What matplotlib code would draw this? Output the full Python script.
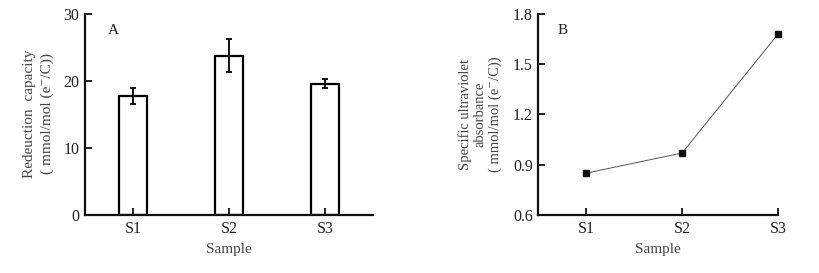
import matplotlib.pyplot as plt

plt.rcParams['font.family'] = ['Liberation Serif', 'DejaVu Serif']

samples = ['S1', 'S2', 'S3']
reduction = [17.8, 23.8, 19.6]
reduction_err = [1.2, 2.4, 0.7]
suva = [0.85, 0.97, 1.68]

fig = plt.figure(figsize=(8.19, 2.73), dpi=100)
axA = fig.add_axes([0.1038, 0.2125, 0.3516, 0.7362])
axB = fig.add_axes([0.6573, 0.2125, 0.2926, 0.7362])

tick_col = '#222222'
lab_col = '#444444'

# panel A - bars
x = range(len(samples))
axA.bar(x, reduction, width=0.29, color='white', edgecolor='black', linewidth=1.6,
        yerr=reduction_err, capsize=2.5, error_kw=dict(elinewidth=1.4, capthick=1.4, ecolor='#111111'))
axA.set_xlim(-0.5, 2.5)
axA.set_ylim(0, 30)
axA.set_yticks([0, 10, 20, 30])
axA.set_xticks(list(x))
axA.set_xticklabels(samples)
axA.text(0.08, 0.92, 'A', transform=axA.transAxes, fontsize=11, color='#222222', va='center')
axA.set_ylabel('Redeuction  capacity\n( mmol/mol (e⁻/C))', fontsize=11, color=lab_col, linespacing=1.45)
axA.yaxis.set_label_coords(-0.106, 0.505)
axA.set_xlabel('Sample', fontsize=11, color=lab_col, labelpad=5)

# panel B - line
axB.plot(list(x), suva, color='#555555', linewidth=0.7, marker='s', markersize=5,
         markerfacecolor='#111111', markeredgecolor='#111111', clip_on=False, zorder=3)
axB.set_xlim(-0.5, 2)
axB.set_ylim(0.6, 1.8)
axB.set_yticks([0.6, 0.9, 1.2, 1.5, 1.8])
axB.set_xticks(list(x))
axB.set_xticklabels(samples)
axB.text(0.08, 0.92, 'B', transform=axB.transAxes, fontsize=11, color='#222222', va='center')
axB.set_ylabel('Specific ultraviolet\nabsorbance\n( mmol/mol (e⁻/C))', fontsize=10.5,
               color=lab_col, linespacing=1.15)
axB.yaxis.set_label_coords(-0.153, 0.5)
axB.set_xlabel('Sample', fontsize=11, color=lab_col, labelpad=5)

for ax in (axA, axB):
    for s in ('top', 'right'):
        ax.spines[s].set_visible(False)
    for s in ('left', 'bottom'):
        ax.spines[s].set_linewidth(1.6)
        ax.spines[s].set_color('#111111')
    ax.tick_params(direction='in', length=5, width=1.3, labelsize=11.5, colors='#111111',
                   labelcolor=tick_col, pad=4)

axA.yaxis.set_major_formatter(plt.FormatStrFormatter('%d'))
axB.yaxis.set_major_formatter(plt.FormatStrFormatter('%.1f'))

fig.savefig('out.png', dpi=100)
